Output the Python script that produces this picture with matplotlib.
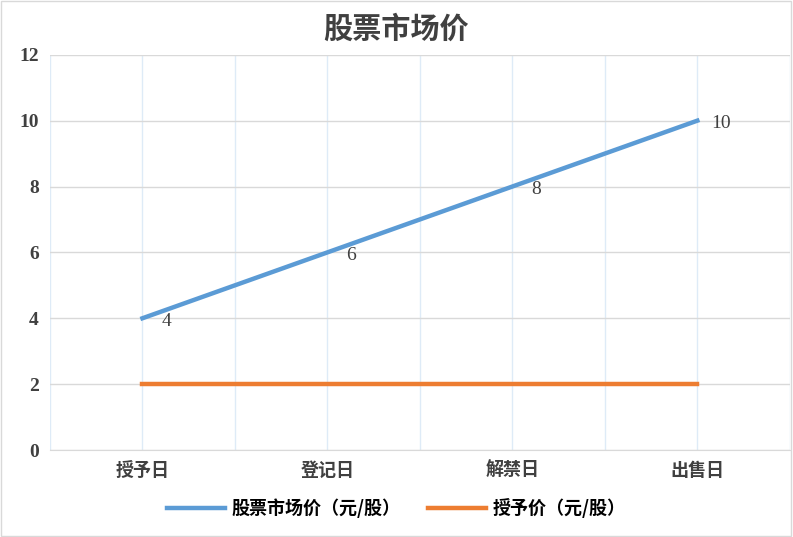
import matplotlib.pyplot as plt
from matplotlib.patches import Rectangle

plt.rcParams['font.family'] = ['Noto Sans CJK SC', 'DejaVu Sans']

categories = ['授予日', '登记日', '解禁日', '出售日']
market_price = [4, 6, 8, 10]
grant_price = [2, 2, 2, 2]

fig = plt.figure(figsize=(7.93, 5.37), dpi=100)
ax = fig.add_axes([0.063, 0.162, 0.933, 0.736])
x = list(range(len(categories)))

ax.plot(x, market_price, color='#5b9bd5', lw=3.2, label='股票市场价（元/股）')
ax.plot(x, grant_price, color='#ed7d31', lw=3.2, label='授予价（元/股）')
for xi, v in zip(x, market_price):
    ax.annotate(str(v), (xi, v), xytext=(17, -2), textcoords='offset points',
                fontsize=14, family='Liberation Serif', color='#404040',
                ha='center', va='center')

ax.set_xlim(-0.5, 3.5)
ax.set_ylim(0, 12)
ax.set_yticks(range(0, 13, 2))
ax.set_yticklabels([str(v) for v in range(0, 13, 2)], family='Liberation Serif',
                   fontweight='bold', fontsize=14, color='#404040')
ax.set_xticks(x)
ax.set_xticklabels(categories, fontsize=13, fontweight='bold', color='#404040')
ax.set_xticks([i + 0.5 for i in range(-1, 4)], minor=True)
ax.grid(axis='y', color='#d9d9d9', lw=1)
ax.grid(axis='x', which='both', color='#deebf7', lw=1)
ax.tick_params(length=0, which='both', pad=8)
for s in ax.spines.values():
    s.set_visible(False)
ax.spines['bottom'].set_visible(True)
ax.spines['bottom'].set_color('#d9d9d9')

fig.suptitle('股票市场价', fontsize=21, fontweight='bold', color='#404040', y=0.975)
fig.legend(loc='lower center', ncol=2, frameon=False, bbox_to_anchor=(0.5, 0.005),
           prop={'size': 13, 'weight': 'bold'}, handlelength=3.2, handletextpad=0.4,
           columnspacing=1.5)
fig.patches.append(Rectangle((0.001, 0.001), 0.997, 0.997, transform=fig.transFigure,
                             fill=False, edgecolor='#d9d9d9', lw=1))
fig.savefig('out.png')
